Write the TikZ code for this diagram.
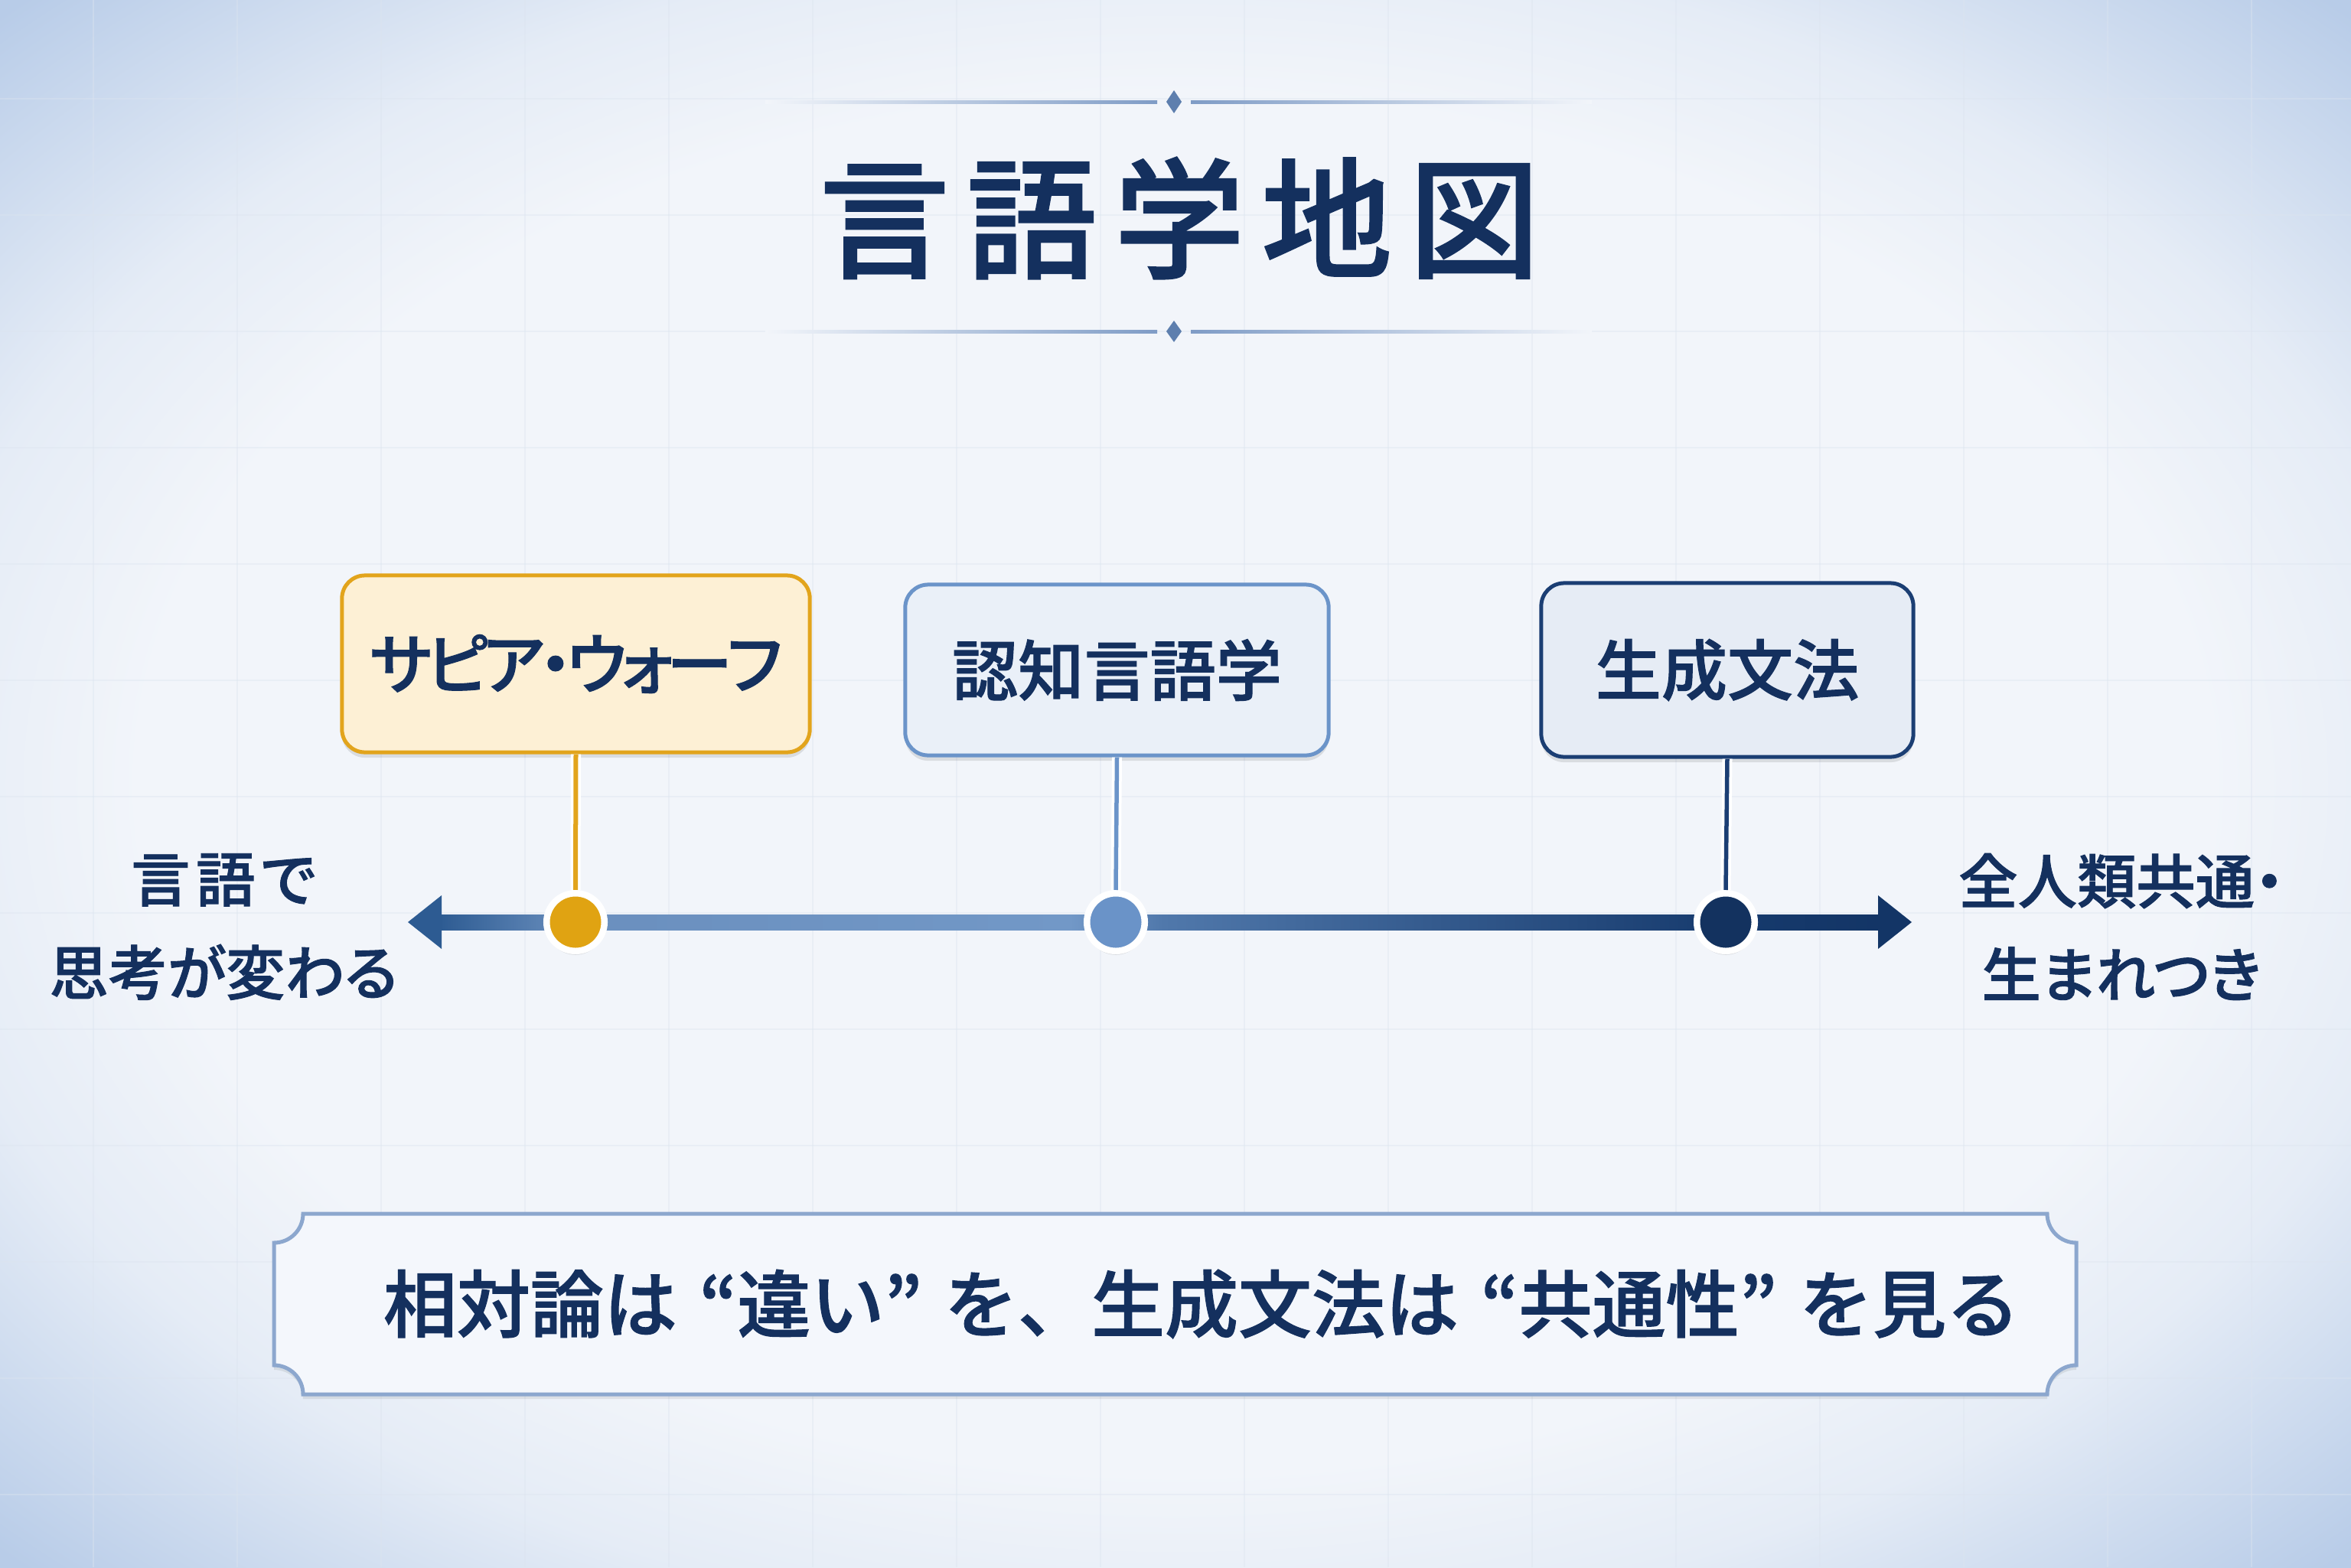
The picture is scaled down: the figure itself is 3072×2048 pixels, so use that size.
\documentclass[tikz,border=0pt]{standalone}
\usepackage{fontspec}
\usetikzlibrary{calc,shadows}
\newfontfamily\jp{Noto Sans CJK JP Medium}[FakeBold=1.2]
\newfontfamily\jpp{Noto Sans CJK JP Medium}[RawFeature=+palt, FakeBold=1.2]
\definecolor{bgW}{HTML}{F2F5FA}
\definecolor{bgM}{HTML}{E5ECF6}
\definecolor{bgB}{HTML}{B8CCE8}
\definecolor{gridC}{HTML}{DCE4EF}
\definecolor{navy}{HTML}{14305E}
\definecolor{ornC}{HTML}{7F9CC6}
\definecolor{ornD}{HTML}{5E7FAE}
\definecolor{swLine}{HTML}{E2A41C}
\definecolor{swFill}{HTML}{FDF0D5}
\definecolor{swDot}{HTML}{E0A312}
\definecolor{cgLine}{HTML}{6B94C9}
\definecolor{cgFill}{HTML}{EAF0F8}
\definecolor{cgDot}{HTML}{6A93C8}
\definecolor{gnLine}{HTML}{1B3E73}
\definecolor{gnFill}{HTML}{E6ECF5}
\definecolor{gnDot}{HTML}{13325F}
\definecolor{axA}{HTML}{2D5B92}
\definecolor{axB}{HTML}{6A8FBE}
\definecolor{axC}{HTML}{7298C7}
\definecolor{axE}{HTML}{5078AB}
\definecolor{axD}{HTML}{163A6D}
\definecolor{axF}{HTML}{133566}
\definecolor{msgLine}{HTML}{8CA7CE}
\definecolor{msgFill}{HTML}{F4F7FC}
\pgfdeclareradialshading{bgshade}{\pgfpoint{0bp}{0bp}}{color(0bp)=(bgW); color(22bp)=(bgW); color(27bp)=(bgM); color(35bp)=(bgB); color(50bp)=(bgB)}
\pgfdeclarehorizontalshading{axshade}{100bp}{color(0bp)=(axA); color(25bp)=(axA); color(29.7bp)=(axB); color(46.9bp)=(axC); color(50.1bp)=(axE); color(69.7bp)=(axD); color(75bp)=(axF); color(100bp)=(axF)}
\newcommand\tsp{\hspace{0.13em}}
\newcommand\nsp{\hspace{-0.08em}}
\newcommand\qsp{\hspace{0.3em}}
\tikzset{
  boxbase/.style={rectangle, rounded corners=0.3cm, line width=0.05cm, text=navy,
    font=\jp\fontsize{24.5}{29}\selectfont,
    drop shadow={shadow xshift=0cm, shadow yshift=-0.07cm, opacity=0.10, fill=black}},
  swbox/.style={boxbase, draw=swLine, fill=swFill, minimum width=6.11cm, minimum height=2.31cm, font=\jpp\fontsize{24.5}{29}\selectfont},
  cgbox/.style={boxbase, draw=cgLine, fill=cgFill, minimum width=5.53cm, minimum height=2.23cm},
  gnbox/.style={boxbase, draw=gnLine, fill=gnFill, minimum width=4.86cm, minimum height=2.27cm},
  dotnode/.style={circle, minimum size=0.755cm, inner sep=0pt, draw=white, line width=0.085cm,
    drop shadow={shadow xshift=0cm, shadow yshift=-0.05cm, opacity=0.12, fill=black}},
  sidelabel/.style={align=center, text=navy, font=\jpp\fontsize{22}{34.7}\selectfont},
  halo/.style={white, line width=0.13cm},
}
\begin{document}
\begin{tikzpicture}[x=0.01cm, y=-0.01cm]
\useasboundingbox (0,0) rectangle (3072,2048);
% background
\shade[shading=bgshade] (0,0) rectangle (3072,2048);
\foreach \gx in {122,310,...,3072} \draw[gridC, opacity=0.4, line width=0.02cm] (\gx,0) -- (\gx,2048);
\foreach \gy in {129,281,...,2048} \draw[gridC, opacity=0.4, line width=0.02cm] (0,\gy) -- (3072,\gy);
% ornaments
\shade[left color=bgW, right color=ornC] (1000,131) rectangle (1512,135);
\shade[left color=ornC, right color=bgW] (1556,131) rectangle (2080,135);
\fill[ornD] (1534,118) -- (1544,133) -- (1534,148) -- (1524,133) -- cycle;
\shade[left color=bgW, right color=ornC] (1000,431) rectangle (1512,435);
\shade[left color=ornC, right color=bgW] (1556,431) rectangle (2080,435);
\fill[ornD] (1534,419) -- (1544,433) -- (1534,447) -- (1524,433) -- cycle;
% title
\node[text=navy, font=\jp\fontsize{48.5}{56}\selectfont] (title) at (1541,285) {言\tsp 語\tsp 学\tsp 地\tsp 図};
% axis
\coordinate (axL) at (533,1205);
\coordinate (axR) at (2498,1205);
\shade[shading=axshade] ($(axL)+(40,-10)$) rectangle ($(axR)+(-40,10)$);
\fill[axA] (axL) -- ++(44,-35) -- ++(0,70) -- cycle;
\fill[axF] (axR) -- ++(-44,-35) -- ++(0,70) -- cycle;
% boxes
\node[swbox] (sw) at (752.5,867.5) {サ\nsp ピ\nsp ア\nsp ・\nsp ウ\nsp ォ\nsp ー\nsp フ};
\node[cgbox] (cg) at (1459.5,875.5) {認知言語学};
\node[gnbox] (gn) at (2257,875.5) {生成文法};
% dots
\node[dotnode, fill=swDot] (d1) at (752,1205) {};
\node[dotnode, fill=cgDot] (d2) at (1458,1205) {};
\node[dotnode, fill=gnDot] (d3) at (2255,1205) {};
% connectors
\draw[halo] (sw.south) -- (d1.north);
\draw[swLine, line width=0.06cm] (sw.south) -- (d1.north);
\draw[halo] (cg.south) -- (d2.north);
\draw[cgLine, line width=0.055cm] (cg.south) -- (d2.north);
\draw[halo] (gn.south) -- (d3.north);
\draw[gnLine, line width=0.055cm] (gn.south) -- (d3.north);
% side labels
\node[sidelabel] (lt) at (292,1211) {言\hspace{0.1em}語\hspace{0.1em}で\\思考が変わる};
\node[sidelabel] (rt) at (2772,1211) {全人類共通・\\生まれつき};
% bottom message box
\def\bL{358}\def\bR{2713}\def\bT{1586}\def\bB{1822}\def\br{38}\def\bk{21}
\path[fill=msgFill, draw=msgLine, line width=0.05cm,
  drop shadow={shadow xshift=0cm, shadow yshift=-0.06cm, opacity=0.08, fill=black}]
  (\bL+\br,\bT) -- (\bR-\br,\bT)
  .. controls (\bR-\br,\bT+\bk) and (\bR-\bk,\bT+\br) .. (\bR,\bT+\br)
  -- (\bR,\bB-\br)
  .. controls (\bR-\bk,\bB-\br) and (\bR-\br,\bB-\bk) .. (\bR-\br,\bB)
  -- (\bL+\br,\bB)
  .. controls (\bL+\br,\bB-\bk) and (\bL+\bk,\bB-\br) .. (\bL,\bB-\br)
  -- (\bL,\bT+\br)
  .. controls (\bL+\bk,\bT+\br) and (\bL+\br,\bT+\bk) .. cycle;
\node[text=navy, font=\jp\fontsize{27.3}{32}\selectfont] (msg) at (1570,1704) {相対論は\qsp“違い”\qsp を、生成文法は\qsp“共通性”\qsp を見る};
\end{tikzpicture}
\end{document}
